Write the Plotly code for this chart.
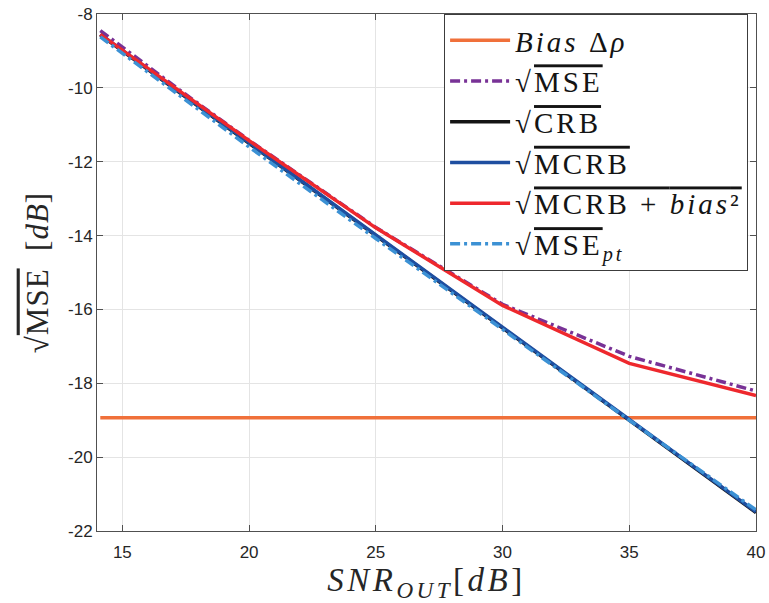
import plotly.graph_objects as go

# SNR at the estimator output (dB)
snr_out = [14.13, 17.5, 20, 25, 30, 35, 40]

# Root-error curves in dB
bias_drho = [-18.93, -18.93, -18.93, -18.93, -18.93, -18.93, -18.93]
rmse = [-8.45, -10.18, -11.42, -13.78, -15.86, -17.27, -18.21]
crb = [-8.565, -10.25, -11.5, -14.0, -16.5, -19.0, -21.5]
mcrb = [-8.55, -10.23, -11.48, -13.98, -16.48, -18.98, -21.48]
mcrb_bias = [-8.55, -10.21, -11.43, -13.79, -15.89, -17.46, -18.33]
rmse_pt = [-8.62, -10.33, -11.6, -14.08, -16.54, -19.0, -21.43]

x_ticks = [15, 20, 25, 30, 35, 40]
x_labels = ["15", "20", "25", "30", "35", "40"]
y_ticks = [-22, -20, -18, -16, -14, -12, -10, -8]
y_labels = ["-22", "-20", "-18", "-16", "-14", "-12", "-10", "-8"]

NB = "\u00a0"
OL = "<span style='text-decoration:overline'>{}</span>"


def spaced(txt, px):
    return "<span style='letter-spacing:{}px'>{}</span>".format(px, txt)


names = [
    spaced("<i>Bias</i>" + NB + "Δ<i>ρ</i>", 3),
    spaced("√" + OL.format("MSE"), 3),
    spaced("√" + OL.format("CRB"), 3),
    spaced("√" + OL.format("MCRB"), 3),
    spaced("√" + OL.format("MCRB" + NB + "+" + NB + "<i>bias</i>²"), 3),
    spaced("√" + OL.format("MSE") + "<sub><i>pt</i></sub>", 3),
]

series = [
    (bias_drho, "rgb(240,112,58)", "solid"),
    (rmse, "rgb(120,50,150)", "10px,4px,3px,4px"),
    (crb, "rgb(20,20,20)", "solid"),
    (mcrb, "rgb(30,78,160)", "solid"),
    (mcrb_bias, "rgb(238,40,45)", "solid"),
    (rmse_pt, "rgb(60,145,212)", "10px,4px,3px,4px"),
]

fig = go.Figure()
for i, (vals, color, dash) in enumerate(series):
    fig.add_trace(go.Scatter(
        x=snr_out, y=vals, mode="lines", name=names[i],
        line=dict(color=color, width=3.5, dash=dash),
    ))

axis_common = dict(
    showgrid=True, gridcolor="rgb(228,228,228)", gridwidth=1,
    showline=True, linecolor="rgb(80,80,80)", linewidth=1, mirror="ticks",
    ticks="inside", ticklen=6, tickcolor="rgb(80,80,80)",
    tickfont=dict(family="Liberation Sans, Arial", size=17, color="rgb(38,38,38)"),
    zeroline=False, automargin=False,
)

fig.update_layout(
    width=769, height=603,
    margin=dict(l=97, r=13, t=14, b=72),
    plot_bgcolor="white", paper_bgcolor="white",
    xaxis=dict(
        range=[14, 40], tickvals=x_ticks, ticktext=x_labels,
        ticklabelstandoff=6,
        title=dict(
            text=spaced("<i>SNR</i><sub><i>OUT</i></sub>[<i>dB</i>]", 3.5),
            font=dict(family="Liberation Serif, DejaVu Serif", size=33, color="rgb(38,38,38)"),
            standoff=2,
        ),
        **axis_common,
    ),
    yaxis=dict(
        range=[-22, -8], tickvals=y_ticks, ticktext=y_labels,
        title=dict(
            text=spaced("√" + OL.format("MSE") + NB + NB + "[<i>dB</i>]", 1),
            font=dict(family="Liberation Serif, DejaVu Serif", size=31, color="rgb(38,38,38)"),
            standoff=10,
        ),
        **axis_common,
    ),
    legend=dict(
        x=0.988, xanchor="right", y=1.0, yanchor="top",
        bgcolor="white", bordercolor="rgb(60,60,60)", borderwidth=1,
        font=dict(family="Liberation Serif, DejaVu Serif", size=29, color="rgb(20,20,20)"),
        tracegroupgap=0, itemwidth=60,
    ),
    showlegend=True,
)

fig.write_html("out.html")
